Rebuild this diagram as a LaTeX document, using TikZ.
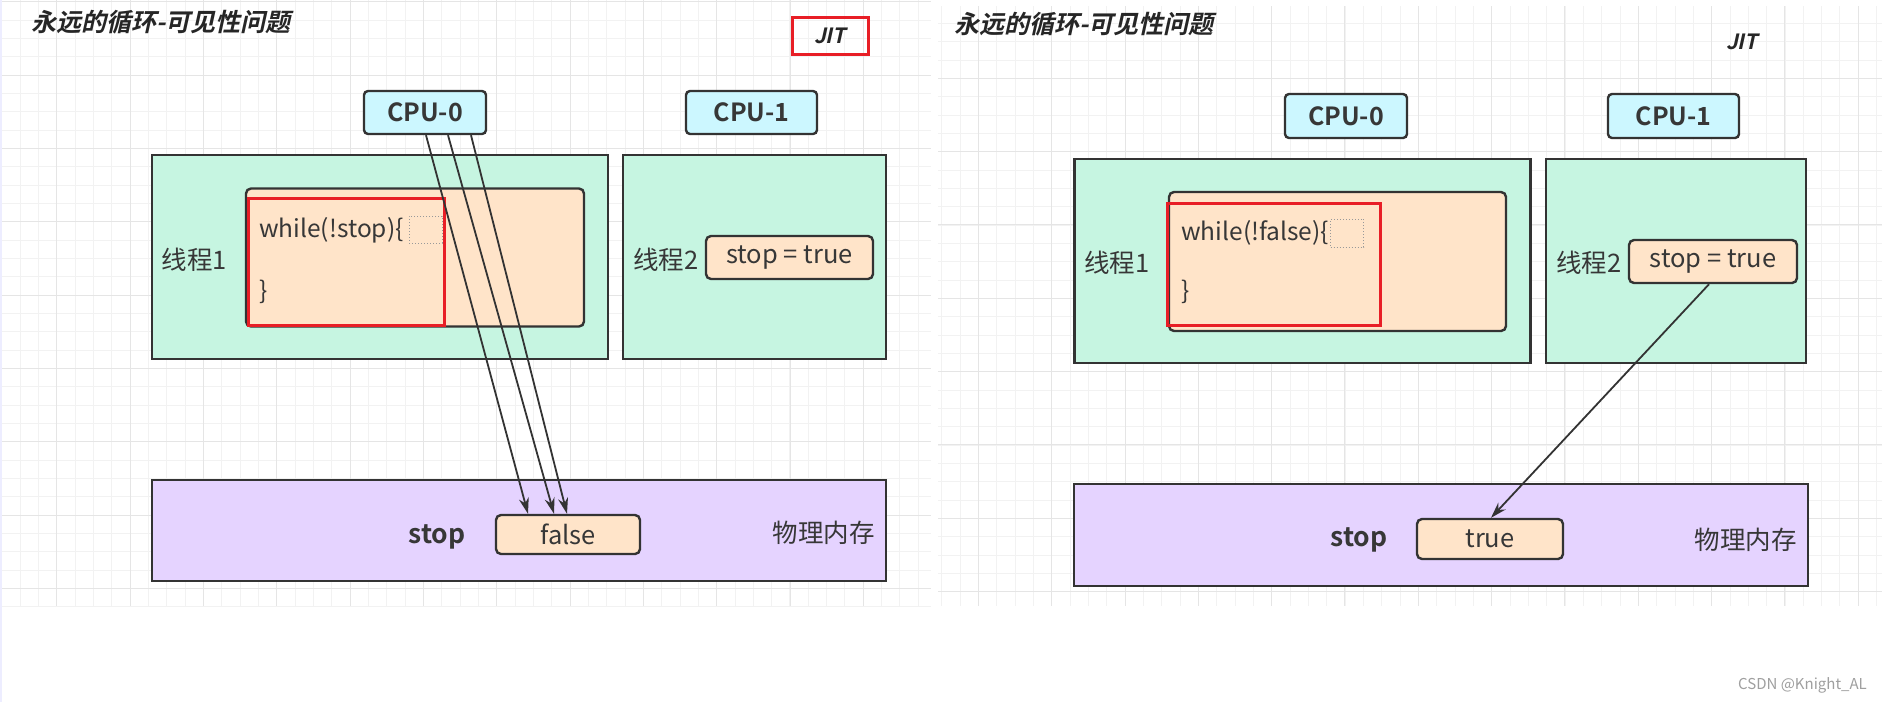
\documentclass[tikz,border=0pt]{standalone}
\usepackage{fontspec}
\setmainfont{Noto Sans CJK SC}[BoldFont={Noto Sans CJK SC Bold}, ItalicFont={Noto Sans CJK SC}, ItalicFeatures={FakeSlant=0.22}, BoldItalicFont={Noto Sans CJK SC Bold}, BoldItalicFeatures={FakeSlant=0.22}]
\usetikzlibrary{arrows.meta, positioning}

\definecolor{mintfill}{RGB}{198,245,225}
\definecolor{peachfill}{RGB}{255,228,201}
\definecolor{cpufill}{RGB}{204,247,255}
\definecolor{memfill}{RGB}{229,211,255}
\definecolor{edgegray}{RGB}{51,51,51}
\definecolor{markred}{RGB}{232,30,38}
\definecolor{gridminor}{RGB}{242,242,242}
\definecolor{gridmajor}{RGB}{229,229,229}
\definecolor{textgray}{RGB}{55,55,55}

\newcommand{\fsz}[1]{\fontsize{#1}{#1}\selectfont}

\tikzset{
  threadbox/.style={draw=edgegray, line width=2.4pt, fill=mintfill, inner sep=0pt},
  cpubox/.style={draw=edgegray, line width=2.4pt, fill=cpufill, rounded corners=4pt, inner sep=0pt, text=textgray, font=\bfseries\fsz{25}},
  codebox/.style={draw=edgegray, line width=2.4pt, fill=peachfill, rounded corners=5pt, inner sep=0pt, text=textgray, font=\fsz{25.5}},
  membox/.style={draw=edgegray, line width=2.4pt, fill=memfill, inner sep=0pt},
  redmark/.style={draw=markred, line width=3pt, inner sep=0pt},
  holebox/.style={draw=gray!80, dotted, line width=1pt, inner sep=0pt},
  txt/.style={text=textgray, font=\fsz{25.5}, inner sep=0pt},
  codetxt/.style={txt, font=\fsz{24.5}},
  heading/.style={text=black!85, font=\bfseries\itshape\fsz{25}, inner sep=0pt},
  readline/.style={draw=edgegray, line width=1.8pt, -{Stealth[length=16pt,width=10pt]}},
}

\begin{document}
\begin{tikzpicture}[x=1pt, y=-1pt]
\useasboundingbox (0,0) rectangle (1882,702);
\fill[white] (0,0) rectangle (1882,702);

% grid paper, left shot
\begin{scope}
\clip (0,0) rectangle (931,606);
\foreach \i in {0,...,51} {
    \draw[gridminor, line width=0.8pt] ({1.7+18.33*\i},0) -- ++(0,606);
}
\foreach \i in {0,...,33} {
    \draw[gridminor, line width=0.8pt] (0,{1.7+18.33*\i}) -- ++(931,0);
}
\foreach \i in {0,...,12} {
    \draw[gridmajor, line width=1pt] ({56.7+73.33*\i},0) -- ++(0,606);
}
\foreach \i in {0,...,8} {
    \draw[gridmajor, line width=1pt] (0,{1.7+73.33*\i}) -- ++(931,0);
}
\end{scope}
\draw[blue!7, line width=2.5pt] (1,0) -- (1,702);

% grid paper, right shot
\begin{scope}
\clip (938,6) rectangle (1882,606);
\foreach \i in {0,...,52} {
    \draw[gridminor, line width=0.8pt] ({941.7+18.33*\i},0) -- ++(0,606);
}
\foreach \i in {0,...,33} {
    \draw[gridminor, line width=0.8pt] (938,{5+18.33*\i}) -- ++(944,0);
}
\foreach \i in {0,...,13} {
    \draw[gridmajor, line width=1pt] ({905+73.33*\i},0) -- ++(0,606);
}
\foreach \i in {0,...,8} {
    \draw[gridmajor, line width=1pt] (938,{5+73.33*\i}) -- ++(944,0);
}
\end{scope}

% ---- left: before JIT ----
\node[heading] (ttlA) at (161,22) {永远的循环-可见性问题};
\node[redmark, minimum width=76, minimum height=37, text=black!85, font=\bfseries\itshape\fsz{21}] (jitA) at (830,35.5) {JIT};

\node[cpubox, minimum width=122, minimum height=43] (cpuA) at (425,112.5) {CPU-0};
\node[cpubox, minimum width=131, minimum height=43] (cpuB) at (751.5,112.5) {CPU-1};

\node[threadbox, minimum width=456, minimum height=204] (thrA) at (380,257) {};
\node[threadbox, minimum width=263, minimum height=204] (thrB) at (754.5,257) {};
\node[codebox, minimum width=338, minimum height=138] (loopA) at (415,257.5) {};
\node[redmark, minimum width=196, minimum height=127] (hotA) at (346,261.5) {};
\node[codetxt, anchor=west] (whileA) at (259,230) {while(!stop)\{};
\node[holebox, minimum width=33, minimum height=27] (holeA) at (425.5,229.5) {};
\node[codetxt, anchor=west] (closeA) at (259,292) {\}};
\node[txt] (nameA) at (194.5,260) {线程1};
\node[txt] (nameB) at (666,260) {线程2};
\node[codebox, minimum width=167, minimum height=43] (setA) at (789.5,257.5) {stop = true};

\node[membox, minimum width=734, minimum height=101] (memA) at (519,530.5) {};
\node[txt, font=\bfseries\fsz{26.5}] (varA) at (437,536.7) {stop};
\node[codebox, minimum width=144, minimum height=39] (falseA) at (568,534.5) {false};
\node[txt] (ramA) at (823.5,533) {物理内存};

% CPU-0 keeps reading stop
\draw[readline] ([xshift=1pt]cpuA.south) -- ([xshift=-40pt]falseA.north);
\draw[readline] ([xshift=23pt]cpuA.south) -- ([xshift=-14pt]falseA.north);
\draw[readline] ([xshift=46pt]cpuA.south) -- ([xshift=-1pt]falseA.north);

% ---- right: after JIT ----
\node[heading] (ttlB) at (1084,24) {永远的循环-可见性问题};
\node[txt, text=black!85, font=\bfseries\itshape\fsz{21}] (jitB) at (1742,42) {JIT};

\node[cpubox, minimum width=122, minimum height=44] (cpuC) at (1346,116) {CPU-0};
\node[cpubox, minimum width=131, minimum height=44] (cpuD) at (1673.5,116) {CPU-1};

\node[threadbox, minimum width=456, minimum height=204] (thrC) at (1302.5,261) {};
\node[threadbox, minimum width=260, minimum height=204] (thrD) at (1676,261) {};
\node[codebox, minimum width=337, minimum height=139] (loopB) at (1337.5,261.5) {};
\node[redmark, minimum width=213, minimum height=122] (hotB) at (1274.3,264) {};
\node[codetxt, anchor=west] (whileB) at (1181,233) {while(!false)\{};
\node[holebox, minimum width=33, minimum height=28] (holeB) at (1347,233) {};
\node[codetxt, anchor=west] (closeB) at (1181,292) {\}};
\node[txt] (nameC) at (1117,263) {线程1};
\node[txt] (nameD) at (1589,263) {线程2};
\node[codebox, minimum width=168, minimum height=43] (setB) at (1713,261.5) {stop = true};

\node[membox, minimum width=734, minimum height=102] (memB) at (1441,535) {};
\node[txt, font=\bfseries\fsz{26.5}] (varB) at (1359,540) {stop};
\node[codebox, minimum width=146, minimum height=40] (trueB) at (1490,539) {true};
\node[txt] (ramB) at (1745.5,540) {物理内存};

% CPU-1 writes stop back
\draw[readline] ([xshift=-4pt]setB.south) -- ([xshift=1pt]trueB.north);

\node[text=gray!75, font=\fsz{15}, inner sep=0pt, anchor=east] (mark) at (1867,685) {CSDN @Knight\_AL};
\end{tikzpicture}
\end{document}
